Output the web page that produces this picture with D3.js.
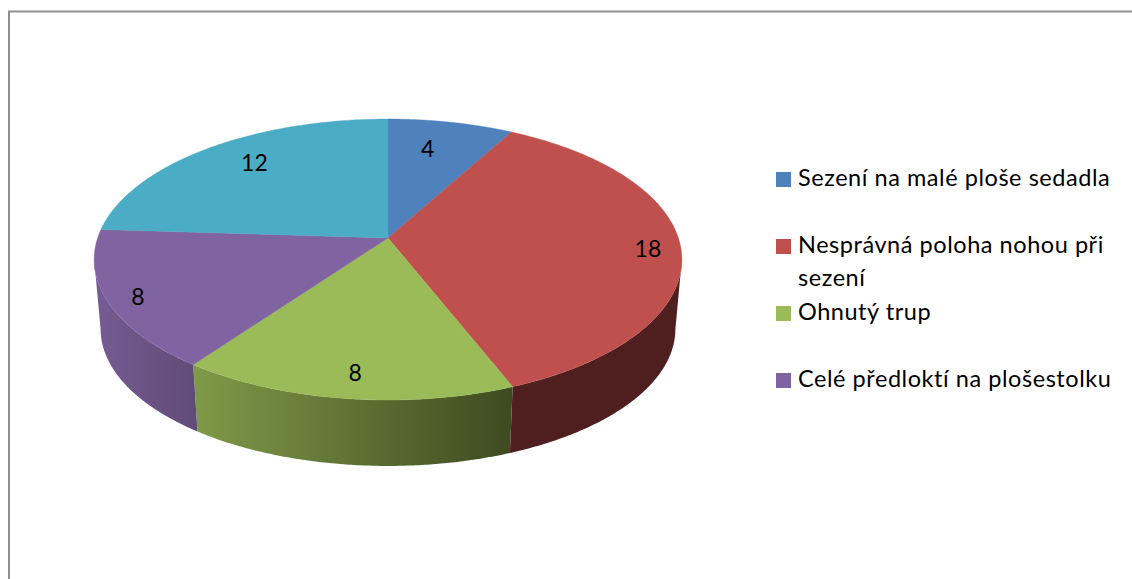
<!DOCTYPE html>
<html><head><meta charset="utf-8">
<script src="https://cdnjs.cloudflare.com/ajax/libs/d3/7.8.5/d3.min.js"></script>
<style>html,body{margin:0;padding:0;background:#fff}svg{display:block}text{font-family:Lato,Carlito,Calibri,sans-serif;fill:#000}</style>
</head><body><svg id="c" width="1132" height="579"></svg>
<script>
const legendCategories = [["Sezení na malé ploše sedadla"],["Nesprávná poloha nohou při","sezení"],["Ohnutý trup"],["Celé předloktí na plošestolku"]];
const sliceValues = [4,18,8,8,12];
const sliceColors = ["#4f81bd","#c0504d","#9bbb59","#8064a2","#4bacc6"];
const wallColors = [null,["#4e1f1e","#4e1f1e"],["#7f9a48","#3e4a20"],["#755c93","#614b77"],null];
const labelNudges = [[-9,1],[41,4.5],[-2,20],[-43,13],[4,-6]];

const svg = d3.select("#c");
const W = 1132, H = 579;
const k = 0.153, A = 290.4, B = 137.2, cx = 388, cy = 238;
const bottomScale = 0.978, bottomCy = 308;
function project(t, r, top=true){
  const s=Math.sin(t)*r, c=Math.cos(t)*r, w=1+k*c;
  const f=top?1:bottomScale, y0=top?cy:bottomCy;
  return [cx+A*f*s/w, y0-B*(top?1:0.975)*c/w];
}
const pie = d3.pie().sort(null).value(d=>d)(sliceValues);
const line = d3.line();
function arcPts(a0,a1,top){
  return d3.range(0,121).map(i=>project(a0+(a1-a0)*i/120,1,top));
}
const sil = Math.acos(-k);
const visL = sil, visR = 2*Math.PI-sil;
const defs = svg.append("defs");

// chart frame
svg.append("path").attr("d",`M9,${H}V11.5H${W}`).attr("fill","none").attr("stroke","#8e8e8e").attr("stroke-width",2);

// side walls
pie.forEach((d,i)=>{
  if(!wallColors[i]) return;
  const a0=Math.max(d.startAngle,visL), a1=Math.min(d.endAngle,visR);
  if(a1<=a0) return;
  const topArc=arcPts(a0,a1,true), botArc=arcPts(a0,a1,false).reverse();
  const xs=[...topArc,...botArc].map(p=>p[0]);
  const id="w"+i;
  const g=defs.append("linearGradient").attr("id",id).attr("gradientUnits","userSpaceOnUse")
    .attr("x1",d3.min(xs)).attr("x2",d3.max(xs)).attr("y1",0).attr("y2",0);
  g.append("stop").attr("offset",0).attr("stop-color",wallColors[i][0]);
  g.append("stop").attr("offset",1).attr("stop-color",wallColors[i][1]);
  svg.append("path").attr("d",line([...topArc,...botArc])+"Z").attr("fill",`url(#${id})`);
});

// top faces
pie.forEach((d,i)=>{
  const pts=[[cx,cy],...arcPts(d.startAngle,d.endAngle,true)];
  svg.append("path").attr("d",line(pts)+"Z").attr("fill",sliceColors[i]).attr("stroke",sliceColors[i]).attr("stroke-width",0.4);
});

// data labels
pie.forEach((d,i)=>{
  const p=project((d.startAngle+d.endAngle)/2,0.75,true);
  svg.append("text").attr("x",p[0]+labelNudges[i][0]).attr("y",p[1]+labelNudges[i][1]+8)
    .attr("text-anchor","middle").attr("font-size",23).text(d.data);
});

// legend
const legendY = d3.scalePoint().domain(d3.range(legendCategories.length)).range([179.5,380.5]);
legendCategories.forEach((lines,i)=>{
  const y=legendY(i);
  svg.append("rect").attr("x",776).attr("y",y-7.5).attr("width",15).attr("height",15).attr("fill",sliceColors[i]);
  lines.forEach((t,j)=>{
    svg.append("text").attr("x",798).attr("y",y+6.5+j*33).attr("font-size",23.5).attr("letter-spacing",0.55).text(t);
  });
});
</script></body></html>
